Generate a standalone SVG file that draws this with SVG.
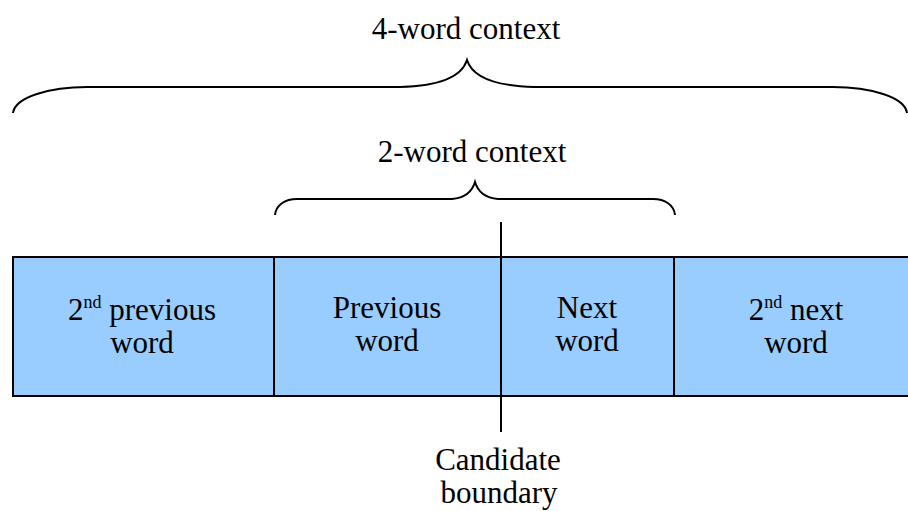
<svg xmlns="http://www.w3.org/2000/svg" width="908" height="511" viewBox="0 0 908 511">
<style>
text{font-family:"Liberation Serif","Times New Roman",Times,Tinos,"Noto Serif","DejaVu Serif",FreeSerif,serif;font-size:31px;fill:#000;text-anchor:middle}
.box{fill:#99CCFF;stroke:#000;stroke-width:2}
.ln{fill:none;stroke:#000;stroke-width:2}
.sup{font-size:18px}
</style>
<rect width="908" height="511" fill="#fff"/>
<g id="cells">
<g id="prev2"><rect class="box" x="13" y="257" width="261" height="139"/>
<text x="142" y="320">2<tspan class="sup" dy="-12">nd</tspan><tspan dy="12"> previous</tspan></text>
<text x="142" y="353">word</text></g>
<g id="prev1"><rect class="box" x="274" y="257" width="227" height="139"/>
<text x="387" y="318">Previous</text>
<text x="387" y="351">word</text></g>
<g id="next1"><rect class="box" x="501" y="257" width="173" height="139"/>
<text x="587" y="318">Next</text>
<text x="587" y="351">word</text></g>
<g id="next2"><rect class="box" x="674" y="257" width="250" height="139"/>
<text x="796" y="320">2<tspan class="sup" dy="-12">nd</tspan><tspan dy="12"> next</tspan></text>
<text x="796" y="353">word</text></g>
</g>
<g id="connectors">
<path id="brace4" class="ln" d="M13,113 C15,97 50,87 87,87 L400,87 C440,86 462,76 467,60 C472,76 494,86 534,87 L833,87 C870,87 905,97 907,113"/>
<path id="brace2" class="ln" d="M275,215 C276,205 285,199 297,199 L452,199 C465,198 472,192 475,182 C478,192 485,198 498,199 L653,199 C665,199 674,205 675,215"/>
<line id="boundary" class="ln" x1="501" y1="222" x2="501" y2="432"/>
</g>
<g id="labels">
<text id="t4" x="466" y="39">4-word context</text>
<text id="t2" x="472" y="162">2-word context</text>
<g id="cand"><text x="498" y="470">Candidate</text>
<text x="499" y="503">boundary</text></g>
</g>
</svg>
